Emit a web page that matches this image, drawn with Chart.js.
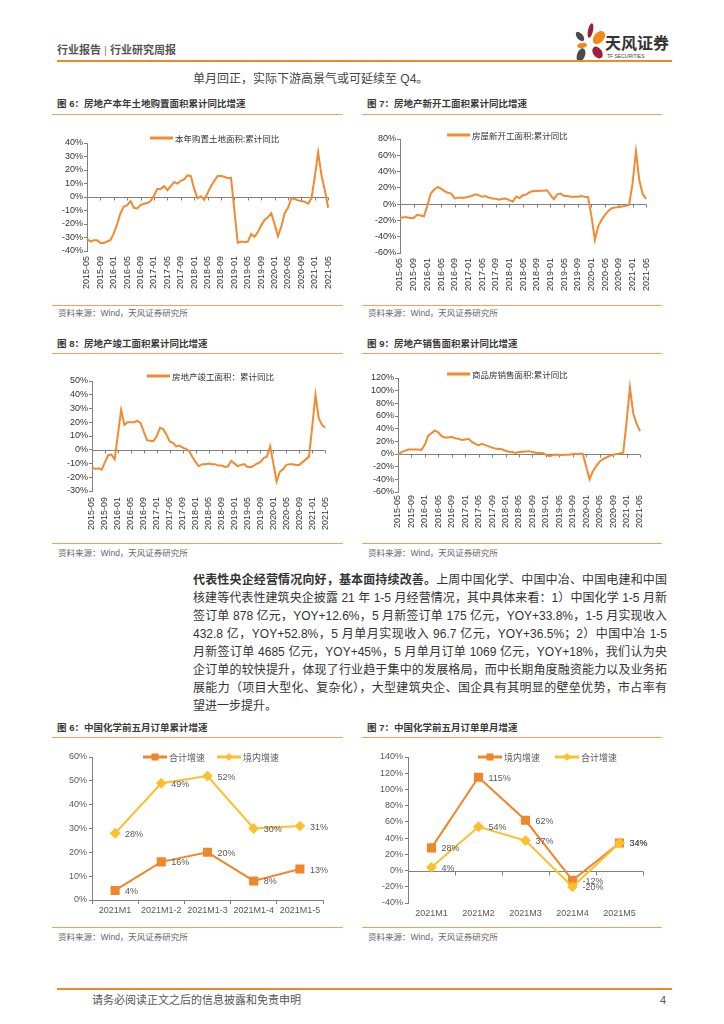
<!DOCTYPE html>
<html>
<head>
<meta charset="utf-8">
<script src="https://cdn.jsdelivr.net/npm/chart.js@4.4.1/dist/chart.umd.min.js"></script>
<style>
html, body { margin: 0; background: #fff; }
#page { position: relative; width: 724px; height: 1024px; overflow: hidden;
  font-family: "Liberation Sans", "Noto Sans CJK SC", sans-serif; color: #333; }
.txt { position: absolute; white-space: nowrap; }
.rule { position: absolute; height: 0; border-top: 1px solid #F4A25A; }
.title { position: absolute; white-space: nowrap; font-size: 9.5px; line-height: 12px; font-weight: bold; color: #3a3a3a; }
.src { position: absolute; white-space: nowrap; font-size: 8.5px; line-height: 12px; color: #666; }
canvas { position: absolute; }
.petal { position: absolute; border-radius: 50%; }
#para { position: absolute; left: 193px; top: 571px; width: 474px; font-size: 12px; color: #333; }
#para div { height: 18px; line-height: 18px; white-space: nowrap; text-align: justify; text-align-last: justify; }
#para div.last { text-align-last: left; }
</style>
</head>
<body>
<div id="page">
  <!-- header -->
  <div class="txt" style="left:57px;top:44px;font-size:11px;line-height:13px;font-weight:bold;color:#555;">行业报告 <span style="font-weight:normal;color:#888;">|</span> 行业研究周报</div>
  <div class="petal" style="left:588px;top:23px;width:5px;height:15px;background:#9E1F3D;transform:rotate(12deg);"></div>
  <div class="petal" style="left:577px;top:31px;width:6px;height:11px;background:#4a4a4a;transform:rotate(-40deg);"></div>
  <div class="petal" style="left:594px;top:30px;width:10px;height:15px;background:#F08A1C;transform:rotate(40deg);"></div>
  <div class="petal" style="left:577px;top:43px;width:10px;height:5px;background:#F08A1C;transform:rotate(-10deg);"></div>
  <div class="petal" style="left:593px;top:46px;width:9px;height:13px;background:#9E1F3D;transform:rotate(-35deg);"></div>
  <div class="petal" style="left:577px;top:48px;width:8px;height:14px;background:#4a4a4a;transform:rotate(20deg);"></div>
  <div class="txt" style="left:605px;top:35px;font-size:16px;line-height:18px;font-weight:bold;color:#333;">天风证券</div>
  <div class="txt" style="left:607px;top:53px;font-size:5px;line-height:6px;color:#444;">TF SECURITIES</div>
  <div class="rule" style="left:57px;top:60px;width:615px;border-top:2px solid #F0892A;"></div>

  <div class="txt" style="left:193px;top:72px;font-size:12px;line-height:14px;color:#444;">单月回正，实际下游高景气或可延续至 Q4。</div>

  <!-- row 1 -->
  <div class="title" style="left:57px;top:98px;">图 6：房地产本年土地购置面积累计同比增速</div>
  <div class="rule" style="left:52px;top:114px;width:291px;"></div>
  <div class="title" style="left:367px;top:98px;">图 7：房地产新开工面积累计同比增速</div>
  <div class="rule" style="left:362px;top:114px;width:300px;"></div>
  <canvas id="c6" width="292" height="166" style="left:52px;top:126px;"></canvas>
  <canvas id="c7" width="300" height="172" style="left:362px;top:122px;"></canvas>
  <div class="rule" style="left:52px;top:305px;width:291px;"></div>
  <div class="rule" style="left:362px;top:305px;width:300px;"></div>
  <div class="src" style="left:58px;top:307px;">资料来源：Wind，天风证券研究所</div>
  <div class="src" style="left:368px;top:307px;">资料来源：Wind，天风证券研究所</div>

  <!-- row 2 -->
  <div class="title" style="left:57px;top:338px;">图 8：房地产竣工面积累计同比增速</div>
  <div class="rule" style="left:52px;top:353px;width:291px;"></div>
  <div class="title" style="left:367px;top:338px;">图 9：房地产销售面积累计同比增速</div>
  <div class="rule" style="left:362px;top:353px;width:300px;"></div>
  <canvas id="c8" width="290" height="172" style="left:52px;top:364px;"></canvas>
  <canvas id="c9" width="300" height="173" style="left:362px;top:361px;"></canvas>
  <div class="rule" style="left:52px;top:543px;width:291px;"></div>
  <div class="rule" style="left:362px;top:543px;width:300px;"></div>
  <div class="src" style="left:58px;top:547px;">资料来源：Wind，天风证券研究所</div>
  <div class="src" style="left:368px;top:547px;">资料来源：Wind，天风证券研究所</div>

  <!-- paragraph -->
  <div id="para">
    <div><b>代表性央企经营情况向好，基本面持续改善。</b>上周中国化学、中国中冶、中国电建和中国</div>
    <div>核建等代表性建筑央企披露 21 年 1-5 月经营情况，其中具体来看：1）中国化学 1-5 月新</div>
    <div>签订单 878 亿元，YOY+12.6%，5 月新签订单 175 亿元，YOY+33.8%，1-5 月实现收入</div>
    <div>432.8 亿，YOY+52.8%，5 月单月实现收入 96.7 亿元，YOY+36.5%；2）中国中冶 1-5</div>
    <div>月新签订单 4685 亿元，YOY+45%，5 月单月订单 1069 亿元，YOY+18%，我们认为央</div>
    <div>企订单的较快提升，体现了行业趋于集中的发展格局，而中长期角度融资能力以及业务拓</div>
    <div>展能力（项目大型化、复杂化），大型建筑央企、国企具有其明显的壁垒优势，市占率有</div>
    <div class="last">望进一步提升。</div>
  </div>

  <!-- row 3 -->
  <div class="title" style="left:57px;top:722px;">图 6：中国化学前五月订单累计增速</div>
  <div class="rule" style="left:52px;top:737px;width:291px;"></div>
  <div class="title" style="left:367px;top:722px;">图 7：中国化学前五月订单单月增速</div>
  <div class="rule" style="left:362px;top:737px;width:300px;"></div>
  <canvas id="b1" width="290" height="182" style="left:52px;top:740px;"></canvas>
  <canvas id="b2" width="300" height="186" style="left:362px;top:740px;"></canvas>
  <div class="rule" style="left:52px;top:927px;width:291px;"></div>
  <div class="rule" style="left:362px;top:927px;width:300px;"></div>
  <div class="src" style="left:58px;top:931px;">资料来源：Wind，天风证券研究所</div>
  <div class="src" style="left:368px;top:931px;">资料来源：Wind，天风证券研究所</div>

  <!-- footer -->
  <div class="rule" style="left:57px;top:988px;width:615px;border-top:2px solid #F0892A;"></div>
  <div class="txt" style="left:92px;top:994px;font-size:11px;line-height:13px;color:#555;">请务必阅读正文之后的信息披露和免责申明</div>
  <div class="txt" style="left:660px;top:994px;font-size:11px;line-height:13px;color:#555;">4</div>
</div>

<script>
'use strict';

// monthly categories 2015-05 .. 2021-05
let months = [
    '2015-05', '2015-06', '2015-07', '2015-08', '2015-09', '2015-10', '2015-11', '2015-12',
    '2016-01', '2016-02', '2016-03', '2016-04', '2016-05', '2016-06', '2016-07', '2016-08', '2016-09', '2016-10', '2016-11', '2016-12',
    '2017-01', '2017-02', '2017-03', '2017-04', '2017-05', '2017-06', '2017-07', '2017-08', '2017-09', '2017-10', '2017-11', '2017-12',
    '2018-01', '2018-02', '2018-03', '2018-04', '2018-05', '2018-06', '2018-07', '2018-08', '2018-09', '2018-10', '2018-11', '2018-12',
    '2019-01', '2019-02', '2019-03', '2019-04', '2019-05', '2019-06', '2019-07', '2019-08', '2019-09', '2019-10', '2019-11', '2019-12',
    '2020-01', '2020-02', '2020-03', '2020-04', '2020-05', '2020-06', '2020-07', '2020-08', '2020-09', '2020-10', '2020-11', '2020-12',
    '2021-01', '2021-02', '2021-03', '2021-04', '2021-05'
];

// 图6 本年购置土地面积:累计同比 (%)
let landPurchase = [
    -31, -33, -32, -32, -34, -34, -33, -32,
    -27, -20, -12, -7, -6, -3, -8, -8.5, -6, -5, -4.5, -3,
    1, 6, 6, 8, 5, 8, 11, 10, 12, 13, 16, 15.5,
    6, -1, 0.5, -2, 3, 8, 12, 15.5, 15.5, 15, 14, 14,
    -10, -34, -33, -33.5, -33, -27.5, -29.5, -26, -21, -17, -15, -12,
    -20, -29, -22, -12, -8, -1, -1.5, -2.5, -3, -3.5, -5, -1,
    15, 33, 16, 5, -8
];

// 图7 房屋新开工面积:累计同比 (%)
let newStarts = [
    -17, -16, -16, -17, -17, -13, -14, -15,
    -2, 13, 18, 21, 19, 16, 14, 13, 7, 8, 8, 8,
    9, 10, 12, 11, 9, 10, 8, 7, 6.5, 5.5, 6.5, 7,
    5, 3, 9.5, 7.5, 11, 12, 15, 16, 16, 16.5, 16.5, 17,
    11, 6, 12, 13, 10, 10, 9, 9, 9, 10, 9, 8.5,
    -15, -44, -27, -19, -13, -8, -5, -4, -3.5, -3, -2, -1,
    25, 65, 29, 12, 6.5
];

// 图8 房地产竣工面积：累计同比 (%)
let completions = [
    -12.6, -14, -13.5, -14.5, -9, -4, -3.5, -7,
    11, 29, 18, 20, 20, 20, 21, 19.5, 13, 7, 6.5, 6.3,
    10, 16, 15, 11, 6, 5, 2.5, 3, 1.5, 0.7, -1, -5.3,
    -9, -12, -10.5, -10.5, -10, -10.5, -10.5, -11.5, -11.5, -12.5, -12, -8,
    -10, -12, -11, -10.5, -12.5, -12.5, -11.5, -10, -9, -6, -5, 2.5,
    -10, -23, -16, -14, -11, -10.5, -10.5, -11, -11, -9, -7, -5,
    17, 40, 23, 18, 16
];

// 图9 商品房销售面积:累计同比 (%)
let salesArea = [
    -2, 3, 5, 7, 7, 7, 7, 6.5,
    15, 29, 33, 37, 34, 28, 26, 26, 27, 25, 24, 22,
    23, 24, 19, 16, 14, 16, 14, 12, 10, 8.5, 8, 7.5,
    5, 3.5, 3, 1.5, 3, 3.5, 4, 4.5, 3, 2, 1.5, 1.5,
    -1, -3.5, -2, -1, -1.5, -1.5, -1.3, -1, 0, 0.1, 0.2, -0.1,
    -20, -40, -27, -19, -12, -8, -5.5, -3, -1, 0, 1, 2,
    50, 105, 64, 48, 36
];

// 中国化学 订单
let cumPeriods = ['2021M1', '2021M1-2', '2021M1-3', '2021M1-4', '2021M1-5'];
let cumTotal = [4, 16, 20, 8, 13];
let cumDomestic = [28, 49, 52, 30, 31];

let monthPeriods = ['2021M1', '2021M2', '2021M3', '2021M4', '2021M5'];
let monthDomestic = [28, 115, 62, -12, 34];
let monthTotal = [4, 54, 37, -20, 34];

let trendColor = '#F28A30';
let orange = '#F0862A';
let yellow = '#FDBF2D';
let axisGray = '#808080';
let fontFamily = '"Liberation Sans", "Noto Sans CJK SC", sans-serif';

Chart.defaults.font.family = fontFamily;
Chart.defaults.color = '#333';


function drawMarker(ctx, style, x, y, r, color) {
    ctx.fillStyle = color;
    ctx.beginPath();
    if (style === 'rect') {
        let s = r * Math.SQRT1_2;
        ctx.rect(x - s, y - s, 2 * s, 2 * s);
    } else {
        ctx.moveTo(x - r, y);
        ctx.lineTo(x, y - r);
        ctx.lineTo(x + r, y);
        ctx.lineTo(x, y + r);
        ctx.closePath();
    }
    ctx.fill();
}

// excel-like legend sitting at the top of the plot
let lineLegend = {
    id: 'lineLegend',
    afterDraw(chart, args, opts) {
        if (!opts.show) return;
        let ctx = chart.ctx;
        let area = chart.chartArea;
        ctx.save();
        ctx.font = opts.font;
        ctx.textBaseline = 'middle';
        let x = area.left + opts.dx;
        let y = area.top + opts.dy;
        chart.data.datasets.forEach(ds => {
            ctx.strokeStyle = ds.borderColor;
            ctx.lineWidth = ds.borderWidth + 1;
            ctx.beginPath();
            ctx.moveTo(x, y);
            ctx.lineTo(x + opts.lineLen, y);
            ctx.stroke();
            if (ds.pointRadius) {
                drawMarker(ctx, ds.pointStyle, x + opts.lineLen / 2, y, ds.pointRadius, ds.pointBackgroundColor);
            }
            ctx.fillStyle = opts.color;
            ctx.fillText(ds.label, x + opts.lineLen + 2, y + 0.5);
            x += opts.lineLen + 2 + ctx.measureText(ds.label).width + opts.gap;
        });
        ctx.restore();
    }
};

// horizontal axis line through zero, with small tick marks
let zeroLine = {
    id: 'zeroLine',
    beforeDatasetsDraw(chart, args, opts) {
        if (!opts.show) return;
        let ctx = chart.ctx;
        let area = chart.chartArea;
        let xs = chart.scales.x;
        let y0 = Math.round(chart.scales.y.getPixelForValue(0)) + 0.5;
        ctx.save();
        ctx.strokeStyle = opts.color;
        ctx.lineWidth = 1;
        ctx.beginPath();
        ctx.moveTo(area.left, y0);
        ctx.lineTo(area.right, y0);
        opts.ticks.forEach(v => {
            let px = Math.round(xs.getPixelForValue(v)) + 0.5;
            ctx.moveTo(px, y0);
            ctx.lineTo(px, y0 + opts.tickLen);
        });
        ctx.stroke();
        ctx.restore();
    }
};

// value labels to the right of each point
let valueLabels = {
    id: 'valueLabels',
    afterDatasetsDraw(chart, args, opts) {
        if (!opts.show) return;
        let ctx = chart.ctx;
        ctx.save();
        ctx.font = opts.font;
        ctx.fillStyle = opts.color;
        ctx.textBaseline = 'middle';
        ctx.textAlign = 'left';
        chart.data.datasets.forEach((ds, di) => {
            chart.getDatasetMeta(di).data.forEach((pt, i) => {
                ctx.fillText(ds.data[i] + '%', pt.x + opts.dx, pt.y + 1);
            });
        });
        ctx.restore();
    }
};

Chart.register(lineLegend, zeroLine, valueLabels);


function trendChart(id, name, values, yMin, yMax, yStep, fit) {
    let tickIdx = months.map((m, i) => i).filter(i => i % 4 === 0);
    return new Chart(document.getElementById(id), {
        type: 'line',
        data: {
            labels: months,
            datasets: [{
                label: name,
                data: values,
                borderColor: trendColor,
                borderWidth: 2,
                pointRadius: 0,
                tension: 0
            }]
        },
        options: {
            responsive: false,
            animation: false,
            layout: { padding: { top: fit.top, right: fit.right, left: 0, bottom: 0 } },
            plugins: {
                legend: { display: false },
                tooltip: { enabled: false },
                lineLegend: { show: true, dx: fit.legendX, dy: fit.legendY, lineLen: 23, gap: 0, font: '8.5px "Noto Sans CJK SC"', color: '#333' },
                zeroLine: { show: true, color: axisGray, ticks: tickIdx, tickLen: 3 },
                valueLabels: { show: false }
            },
            scales: {
                x: {
                    offset: false,
                    grid: { display: false, drawTicks: false },
                    border: { display: false },
                    ticks: {
                        autoSkip: false, maxRotation: 90, minRotation: 90, padding: fit.xPad,
                        font: { size: 9 }, color: '#333',
                        callback: (v, i) => i % 4 === 0 ? months[i] : null
                    },
                    afterFit: s => { s.height = fit.xh; }
                },
                y: {
                    min: yMin, max: yMax,
                    grid: { drawOnChartArea: false, drawTicks: true, tickLength: 3, color: axisGray },
                    border: { display: true, color: axisGray },
                    ticks: { stepSize: yStep, autoSkip: false, padding: 1, font: { size: 9 }, color: '#333', callback: v => v + '%' },
                    afterFit: s => { s.width = fit.yw; }
                }
            }
        }
    });
}

trendChart('c6', '本年购置土地面积:累计同比', landPurchase, -40, 40, 10,
    { top: 17, right: 14, yw: 35, xh: 41, xPad: 5, legendX: 63, legendY: -5 });
trendChart('c7', '房屋新开工面积:累计同比', newStarts, -60, 80, 20,
    { top: 17, right: 10, yw: 38, xh: 41, xPad: 5, legendX: 47, legendY: -4 });
trendChart('c8', '房地产竣工面积：累计同比', completions, -30, 50, 10,
    { top: 17, right: 14, yw: 40, xh: 45, xPad: 6, legendX: 55, legendY: -5 });
trendChart('c9', '商品房销售面积:累计同比', salesArea, -60, 120, 20,
    { top: 17, right: 22, yw: 36, xh: 42, xPad: 3, legendX: 49, legendY: -4 });


function orderChart(id, cats, sets, yMin, yMax, yStep, fit) {
    return new Chart(document.getElementById(id), {
        type: 'line',
        data: { labels: cats, datasets: sets },
        options: {
            responsive: false,
            animation: false,
            layout: { padding: { top: fit.top, right: fit.right, left: 0, bottom: 0 } },
            plugins: {
                legend: { display: false },
                tooltip: { enabled: false },
                lineLegend: { show: true, dx: fit.legendX, dy: 0, lineLen: 24, gap: fit.legendGap, font: '9px "Noto Sans CJK SC"', color: '#595959' },
                zeroLine: { show: fit.zeroAxis, color: axisGray, ticks: cats.map((c, i) => i - 0.5).concat([cats.length - 0.5]), tickLen: 4 },
                valueLabels: { show: true, dx: 10, font: '9px "Liberation Sans"', color: '#595959' }
            },
            scales: {
                x: {
                    offset: true,
                    grid: fit.zeroAxis
                        ? { display: false, drawTicks: false }
                        : { display: true, offset: true, drawOnChartArea: false, drawTicks: true, tickLength: 4, color: axisGray },
                    border: { display: !fit.zeroAxis, color: axisGray },
                    ticks: { padding: fit.xPad, font: { size: 9 }, color: '#595959', maxRotation: 0, autoSkip: false },
                    afterFit: s => { s.height = fit.xh; }
                },
                y: {
                    min: yMin, max: yMax,
                    grid: { drawOnChartArea: false, drawTicks: true, tickLength: 3, color: axisGray },
                    border: { display: true, color: axisGray },
                    ticks: { stepSize: yStep, autoSkip: false, padding: 2, font: { size: 9 }, color: '#595959', callback: v => v + '%' },
                    afterFit: s => { s.width = fit.yw; }
                }
            }
        }
    });
}

orderChart('b1', cumPeriods, [
    { label: '合计增速', data: cumTotal, borderColor: orange, borderWidth: 2, tension: 0,
      pointStyle: 'rect', pointRadius: 5, pointBackgroundColor: orange, pointBorderColor: orange, order: 1 },
    { label: '境内增速', data: cumDomestic, borderColor: yellow, borderWidth: 2, tension: 0,
      pointStyle: 'rectRot', pointRadius: 4, pointBackgroundColor: yellow, pointBorderColor: yellow, order: 0 }
], 0, 60, 10, { top: 17, right: 19, yw: 40, xh: 22, xPad: 1, legendX: 51, legendGap: 12, zeroAxis: false });

orderChart('b2', monthPeriods, [
    { label: '境内增速', data: monthDomestic, borderColor: orange, borderWidth: 2, tension: 0,
      pointStyle: 'rect', pointRadius: 5, pointBackgroundColor: orange, pointBorderColor: orange, order: 1 },
    { label: '合计增速', data: monthTotal, borderColor: yellow, borderWidth: 2, tension: 0,
      pointStyle: 'rectRot', pointRadius: 4, pointBackgroundColor: yellow, pointBorderColor: yellow, order: 0 }
], -40, 140, 20, { top: 17, right: 19, yw: 46, xh: 23, xPad: 5, legendX: 70, legendGap: 15, zeroAxis: true });
</script>
</body>
</html>
